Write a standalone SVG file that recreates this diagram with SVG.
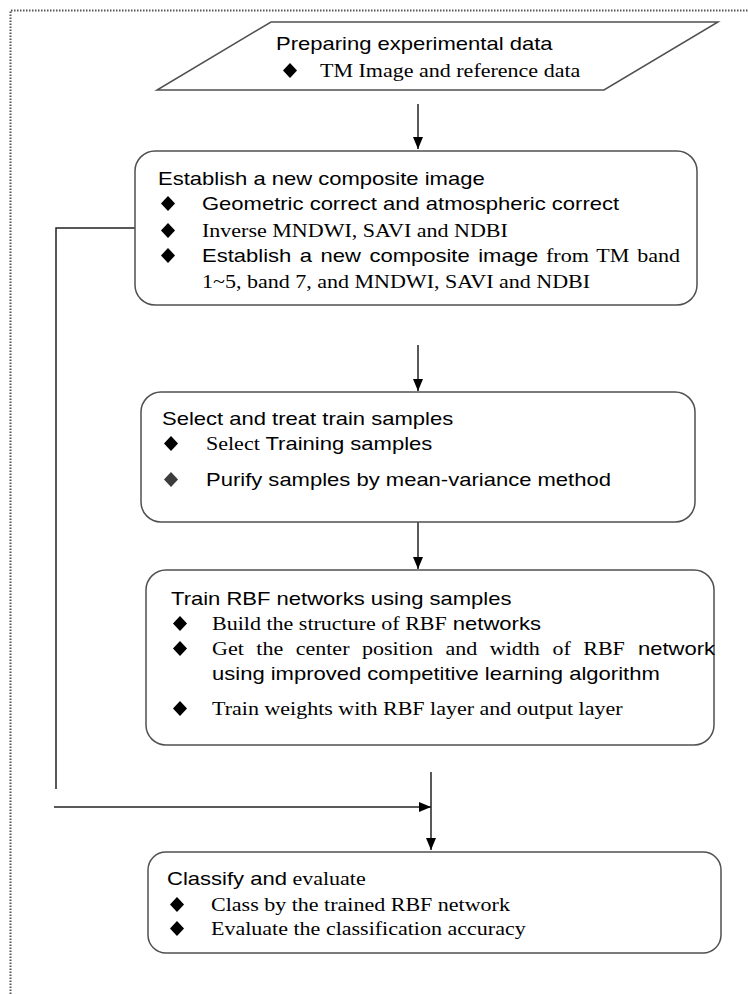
<svg xmlns="http://www.w3.org/2000/svg" width="748" height="994" viewBox="0 0 748 994">
<defs>
<style>
.frame{fill:none;stroke:#555;stroke-width:2;stroke-dasharray:1.5 1.5}
.box{fill:#fff;stroke:#505050;stroke-width:1.5}
.ln{fill:none;stroke:#222;stroke-width:1.5}
.a{font-family:"Liberation Sans",Arial,sans-serif;font-size:18.5px;fill:#000}
.t{font-family:"Liberation Serif","Times New Roman",serif;font-size:18.5px;fill:#000}
.d{fill:#000}
.d2{fill:#3c3c3c}
</style>
<marker id="ah" viewBox="0 0 12 10" refX="12" refY="5" markerWidth="12" markerHeight="10" markerUnits="userSpaceOnUse" orient="auto">
<path d="M0,0 L12,5 L0,10 Z" fill="#000"/>
</marker>
</defs>
<rect width="748" height="994" fill="#fff"/>
<path class="frame" d="M10.5,994 V10.5 H748"/>

<g id="connectors">
<line class="ln" x1="418" y1="104" x2="418" y2="149" marker-end="url(#ah)"/>
<line class="ln" x1="418" y1="345" x2="418" y2="391" marker-end="url(#ah)"/>
<line class="ln" x1="418" y1="522" x2="418" y2="569" marker-end="url(#ah)"/>
<path class="ln" d="M135,228 H56 V789"/>
<line class="ln" x1="54" y1="807" x2="431" y2="807" marker-end="url(#ah)"/>
<line class="ln" x1="431" y1="772" x2="431" y2="850" marker-end="url(#ah)"/>
</g>

<g id="node-prepare">
<polygon class="box" points="271,22 718,22 604,90 157,90"/>
<text class="a" transform="translate(276,50) scale(1.19,1)">Preparing experimental data</text>
<polygon class="d" points="290,63 297,70.5 290,78 283,70.5"/>
<text class="t" transform="translate(320,77) scale(1.19,1)">TM Image and reference data</text>
</g>

<g id="node-composite">
<rect class="box" x="135" y="151" width="562" height="154" rx="20"/>
<text class="a" transform="translate(158,185) scale(1.19,1)">Establish a new composite image</text>
<polygon class="d" points="168,196 175,203.5 168,211 161,203.5"/>
<text class="a" transform="translate(202,210) scale(1.19,1)">Geometric correct and atmospheric correct</text>
<polygon class="d" points="168,223 175,230.5 168,238 161,230.5"/>
<text class="t" transform="translate(202,237) scale(1.19,1)">Inverse MNDWI, SAVI and NDBI</text>
<polygon class="d" points="168,248 175,255.5 168,263 161,255.5"/>
<text class="a" transform="translate(202,262) scale(1.19,1)" word-spacing="2">Establish a new composite image<tspan class="t"> from TM band</tspan></text>
<text class="t" transform="translate(202,288) scale(1.19,1)">1~5, band 7, and MNDWI, SAVI and NDBI</text>
</g>

<g id="node-samples">
<rect class="box" x="141" y="392" width="554" height="130" rx="20"/>
<text class="a" transform="translate(162,425) scale(1.19,1)">Select and treat train samples</text>
<polygon class="d" points="171,436 178,443.5 171,451 164,443.5"/>
<text class="t" transform="translate(206,450) scale(1.19,1)">Select<tspan class="a"> Training samples</tspan></text>
<polygon class="d2" points="171,472 178,479.5 171,487 164,479.5"/>
<text class="a" transform="translate(206,486) scale(1.19,1)">Purify samples by mean-variance method</text>
</g>

<g id="node-train">
<rect class="box" x="146" y="570" width="568" height="175" rx="20"/>
<text class="a" transform="translate(171,605) scale(1.19,1)">Train RBF networks using samples</text>
<polygon class="d" points="180,616 187,623.5 180,631 173,623.5"/>
<text class="t" transform="translate(212,630) scale(1.19,1)">Build the structure of RBF<tspan class="a"> networks</tspan></text>
<polygon class="d" points="180,641 187,648.5 180,656 173,648.5"/>
<text class="t" transform="translate(212,655) scale(1.19,1)" word-spacing="5.9">Get the center position and width of RBF<tspan class="a"> network</tspan></text>
<text class="a" transform="translate(212,680) scale(1.19,1)">using improved competitive learning algorithm</text>
<polygon class="d" points="180,701 187,708.5 180,716 173,708.5"/>
<text class="t" transform="translate(212,715) scale(1.19,1)">Train weights with RBF layer and output layer</text>
</g>

<g id="node-classify">
<rect class="box" x="148" y="852" width="573" height="101" rx="18"/>
<text class="a" transform="translate(167,885) scale(1.19,1)">Classify and<tspan class="t"> evaluate</tspan></text>
<polygon class="d" points="177,897 184,904.5 177,912 170,904.5"/>
<text class="t" transform="translate(211,911) scale(1.19,1)">Class by the trained RBF network</text>
<polygon class="d" points="177,921 184,928.5 177,936 170,928.5"/>
<text class="t" transform="translate(211,935) scale(1.19,1)">Evaluate the classification accuracy</text>
</g>
</svg>
